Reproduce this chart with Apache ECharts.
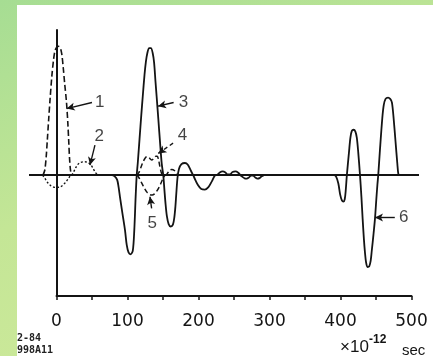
<!DOCTYPE html>
<html><head><meta charset="utf-8">
<script src="https://cdn.jsdelivr.net/npm/echarts@6/dist/echarts.min.js"></script>
<style>
html,body{margin:0;padding:0;width:433px;height:356px;overflow:hidden;}
body{background:linear-gradient(160deg,#a6dd93 0%,#c4e696 45%,#d0ea9c 100%);position:relative;}
#paper{position:absolute;left:17px;top:5px;width:416px;height:351px;background:#fff;}
#chart{position:absolute;left:0;top:0;width:433px;height:356px;}
</style></head><body><div id="paper"></div><div id="chart"></div>
<script>
// x in units of 1e-12 sec, y in arbitrary amplitude units
const xTicks = [0, 100, 200, 300, 400, 500];
const xTickLabels = ['0', '100', '200', '300', '400', '500'];

const curve1 = [[-19,0],[-16.5,0.4],[-14.5,1.5],[-13,2.8],[-11,4.6],[-9,6.3],[-6.5,8.2],[-4,9.6],[-2,10.3],[0.5,10.6],[3,10.65],[5.5,10.5],[7.5,10.0],[9.5,8.9],[11.5,7.6],[14,6.1],[16,4.3],[17.5,2.5],[18.5,1.3],[20,0.3],[22,0]];
const curve2 = [[-19.5,0],[-16,-0.3],[-12,-0.65],[-8,-0.88],[-4,-1.0],[0,-1.02],[4,-1.0],[8,-0.88],[12,-0.65],[16,-0.35],[19,-0.1],[21.5,0],[24,0.25],[27,0.6],[30,0.88],[34,1.05],[40,1.1],[45,1.02],[49,0.8],[52,0.5],[55,0.2],[58,0.03],[61,0]];
const curve3 = [[58,0],[78,0],[82,-0.1],[85.5,-0.4],[87.5,-1.0],[89.4,-1.8],[93,-3.2],[96.5,-4.55],[99,-5.8],[101.5,-6.4],[104.5,-6.55],[107.5,-6.25],[109.6,-4.55],[111.5,-1.8],[113,0],[114.5,1.0],[117,3.0],[119.5,5.0],[121.5,6.5],[124,8.3],[126,9.4],[128,10.1],[130.5,10.5],[133,10.5],[135.5,10.1],[137.5,9.3],[139.5,7.7],[141.1,6.48],[143.5,4.6],[146,2.6],[148.2,0.97],[150.4,0],[152,-1.2],[153.5,-2.3],[155.5,-3.4],[158,-4.05],[161,-4.25],[164,-4.1],[166,-3.5],[167.5,-2.6],[168.8,-1.5],[170.5,-0.2],[172.5,0.5],[176,0.9],[181,1.0],[185,0.85],[189,0.4],[194,-0.2],[199,-0.8],[204,-1.15],[209,-1.2],[214,-1.0],[219,-0.5],[223,-0.05],[227,0.05],[230,0.22],[234,0.3],[238,0.22],[241,0.05],[244,0.05],[248,0.25],[252,0.3],[256,0.2],[259,0],[262,-0.15],[265,-0.27],[268,-0.3],[271,-0.2],[274,-0.05],[277,-0.05],[280,-0.2],[283,-0.3],[286,-0.25],[289,-0.1],[292,0]];
const curve4 = [[113,0],[116,0.2],[119,0.65],[122,1.1],[125,1.42],[127.5,1.52],[130.5,1.42],[134,1.25],[137,1.35],[140,1.55],[142,1.55],[144,1.2],[146,0.6],[148,0.15],[150,0],[153,0],[156,0.12],[159,0.38],[162.5,0.47],[166,0.38],[169,0.12],[172,0]];
const curve5 = [[113,0],[116,-0.2],[120,-0.65],[124,-1.1],[128,-1.45],[132,-1.63],[135,-1.65],[138,-1.55],[141,-1.35],[145,-0.95],[148,-0.55],[150.5,-0.22],[153,0]];
const curve6 = [[385,0],[391,0],[394,-0.15],[397,-0.7],[399.5,-1.6],[402,-2.1],[404,-2.2],[406,-2.0],[407.5,-1.2],[409,0],[412,1.9],[414,3.1],[416,3.65],[418.5,3.75],[421,3.6],[423,3.1],[425,1.9],[427.5,0],[429.5,-1.8],[431.2,-3.6],[433,-5.3],[434.5,-6.4],[436,-7.2],[438,-7.6],[440.5,-7.55],[442.5,-7.1],[444,-6.3],[446.5,-4.9],[448.6,-3.6],[450.5,-2.0],[452,-0.8],[453.2,0],[455.5,2.0],[458.9,4.7],[461,5.8],[463.5,6.3],[467,6.4],[470,6.3],[472.5,6.0],[475,4.6],[477.5,2.8],[480,1.0],[481.5,0.1],[483,0]];
const baseline = [[-38.7,0],[510.6,0]];

const labelTexts = ['1', '2', '3', '4', '5', '6'];
const labelPos = [[61,6.04],[60.3,3.2],[179,6.06],[177.4,3.25],[135,-4.0],[489,-3.5]];
const leaderHead = [[14.4,5.5],[47.2,0.83],[143,5.7],[143.4,1.79],[131.7,-1.79],[448.6,-3.5]];
const leaderTail = [[50,6.0],[54.2,2.48],[165,6.0],[166.9,2.75],[134,-2.75],[476.5,-3.5]];
const leaderDashed = [false, false, false, true, false, false];

const INK = '#141414';
function curve(data, type, width) {
  return { type: 'line', xAxisIndex: 0, yAxisIndex: 0, data: data, symbol: 'none', smooth: 0.3, silent: true,
    lineStyle: { color: INK, width: width, type: type } };
}

const chart = echarts.init(document.getElementById('chart'), null, { renderer: 'canvas' });
chart.setOption({
  animation: false,
  backgroundColor: 'transparent',
  grid: [
    { left: 29, right: 14, top: 30, bottom: 60 },      // wide plotting area (curves + baseline)
    { left: 56.5, right: 21.5, top: 30, bottom: 60 }   // drawn axes
  ],
  xAxis: [
    { gridIndex: 0, type: 'value', min: -38.7, max: 510.6, show: false, splitLine: { show: false } },
    { gridIndex: 1, type: 'value', min: 0, max: 500, interval: 50,
      axisLine: { show: true, onZero: false, lineStyle: { color: INK, width: 2 } },
      axisTick: { show: true, length: 4, lineStyle: { color: INK, width: 1.5 } },
      axisLabel: { margin: 17, fontFamily: 'DejaVu Sans', fontSize: 17, color: INK,
        formatter: function (v) { const i = xTicks.indexOf(v); return i >= 0 ? xTickLabels[i] : ''; } },
      splitLine: { show: false } }
  ],
  yAxis: [
    { gridIndex: 0, type: 'value', min: -10, max: 12, show: false, splitLine: { show: false } },
    { gridIndex: 1, type: 'value', min: -10, max: 12,
      axisLine: { show: true, onZero: false, lineStyle: { color: INK, width: 2 } },
      axisTick: { show: false }, axisLabel: { show: false }, splitLine: { show: false } }
  ],
  series: [
    { type: 'line', xAxisIndex: 0, yAxisIndex: 0, data: baseline, symbol: 'none', silent: true,
      lineStyle: { color: INK, width: 2 } },
    curve(curve1, [6, 3], 1.6),
    curve(curve2, [2, 2], 1.4),
    curve(curve3, 'solid', 1.8),
    curve(curve4, [5, 3], 1.5),
    curve(curve5, [5, 3], 1.5),
    curve(curve6, 'solid', 1.8),
    { type: 'line', xAxisIndex: 0, yAxisIndex: 0, data: [], symbol: 'none', silent: true,
      markLine: {
        silent: true, symbol: ['arrow', 'none'], symbolSize: [6, 8],
        label: { show: false },
        lineStyle: { color: INK, width: 1.4, type: 'solid' },
        data: leaderHead.map(function (h, i) {
          return [{ coord: h, lineStyle: { type: leaderDashed[i] ? [4, 3] : 'solid' } }, { coord: leaderTail[i] }];
        })
      }
    },
    { type: 'scatter', xAxisIndex: 0, yAxisIndex: 0, data: labelPos, symbolSize: 0, silent: true,
      label: { show: true, position: 'inside', color: INK, fontFamily: 'Liberation Sans', fontSize: 17,
        formatter: function (p) { return labelTexts[p.dataIndex]; } } }
  ],
  graphic: [
    { type: 'text', left: 340, top: 339, style: { text: '×10', font: '17px "Liberation Sans"', fill: INK } },
    { type: 'text', left: 369, top: 334, style: { text: '-12', font: 'bold 12px "Liberation Sans"', fill: INK } },
    { type: 'text', left: 402, top: 343, style: { text: 'sec', font: '15px "Liberation Sans"', fill: INK } },
    { type: 'text', left: 17, top: 333, style: { text: '2-84', font: 'bold 10px "DejaVu Sans Mono"', fill: '#222' } },
    { type: 'text', left: 17, top: 345, style: { text: '998A11', font: 'bold 10px "DejaVu Sans Mono"', fill: '#222' } }
  ]
});
</script></body></html>
